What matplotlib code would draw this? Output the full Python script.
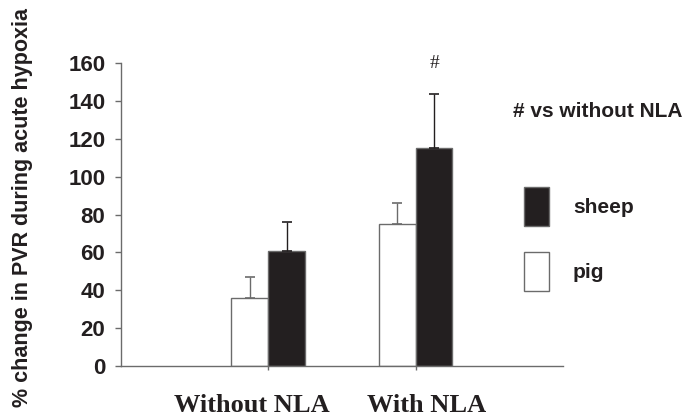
import matplotlib
matplotlib.use("Agg")
import matplotlib.pyplot as plt
import numpy as np

# % change in PVR during acute hypoxia (mean, upper SEM)
groups = ["Without NLA", "With NLA"]
pig = [36, 75]
pig_err = [11, 11]
sheep = [61, 115]
sheep_err = [15, 29]
yticks = [0, 20, 40, 60, 80, 100, 120, 140, 160]

INK = "#231f20"
GREY = "#6b6b6b"
SANS = "Liberation Sans"
SERIF = "Liberation Serif"

fig = plt.figure(figsize=(6.93, 4.16), dpi=100)
ax = fig.add_axes([0.1746, 0.1202, 0.6378, 0.7276])

x = np.arange(1, len(groups) + 1)
w = 0.25
zeros = np.zeros(len(groups))
ax.bar(x - w / 2, pig, w, color="white", edgecolor=GREY, lw=1.0,
       yerr=[zeros, pig_err], ecolor=GREY, capsize=3.6,
       error_kw=dict(elinewidth=1.0, capthick=1.2), label="pig", zorder=2)
ax.bar(x + w / 2, sheep, w, color=INK, edgecolor=GREY, lw=1.0,
       yerr=[zeros, sheep_err], ecolor=INK, capsize=3.6,
       error_kw=dict(elinewidth=1.0, capthick=1.2), label="sheep", zorder=2)

ax.set_xlim(0, 3)
ax.set_ylim(0, 160)
ax.set_yticks(yticks)
ax.set_xticks(x)
ax.set_xticklabels([])
for s in ["top", "right"]:
    ax.spines[s].set_visible(False)
for s in ["left", "bottom"]:
    ax.spines[s].set_color(GREY)
    ax.spines[s].set_linewidth(1.0)
ax.tick_params(axis="y", length=4.3, width=1.0, color=GREY, pad=7,
               labelsize=16, labelcolor=INK)
ax.tick_params(axis="x", length=3, width=1.0, color=GREY)
for t in ax.get_yticklabels():
    t.set_fontfamily(SANS)
    t.set_fontweight("bold")

# group labels (serif, offset from ticks as in the original)
for xp, lab in zip([0.886, 2.074], groups):
    ax.text(xp, -0.153, lab, transform=ax.get_xaxis_transform(),
            ha="center", va="baseline", fontsize=19, fontweight="bold",
            family=SERIF, color=INK)

# significance marker
ax.text(x[1] + w / 2, 160, "#", ha="center", va="center",
        fontsize=14, family=SERIF, color=INK)

fig.text(0.033, 0.502, "% change in PVR during acute hypoxia", rotation=90,
         ha="center", va="center", fontsize=15.5, fontweight="bold",
         family=SANS, color=INK)
fig.text(513 / 693, 1 - 117.3 / 416, "# vs without NLA", ha="left",
         va="baseline", fontsize=15, fontweight="bold", family=SANS, color=INK)

h, l = ax.get_legend_handles_labels()
leg = fig.legend(h[::-1], l[::-1], loc="upper left",
                 bbox_to_anchor=(524 / 693, 1 - 187 / 416), frameon=False,
                 borderpad=0, borderaxespad=0, handlelength=1.2,
                 handleheight=2.5, labelspacing=1.25, handletextpad=1.15,
                 prop=dict(family=SANS, weight="bold", size=15))
for t in leg.get_texts():
    t.set_color(INK)

fig.savefig("out.png", dpi=100)
